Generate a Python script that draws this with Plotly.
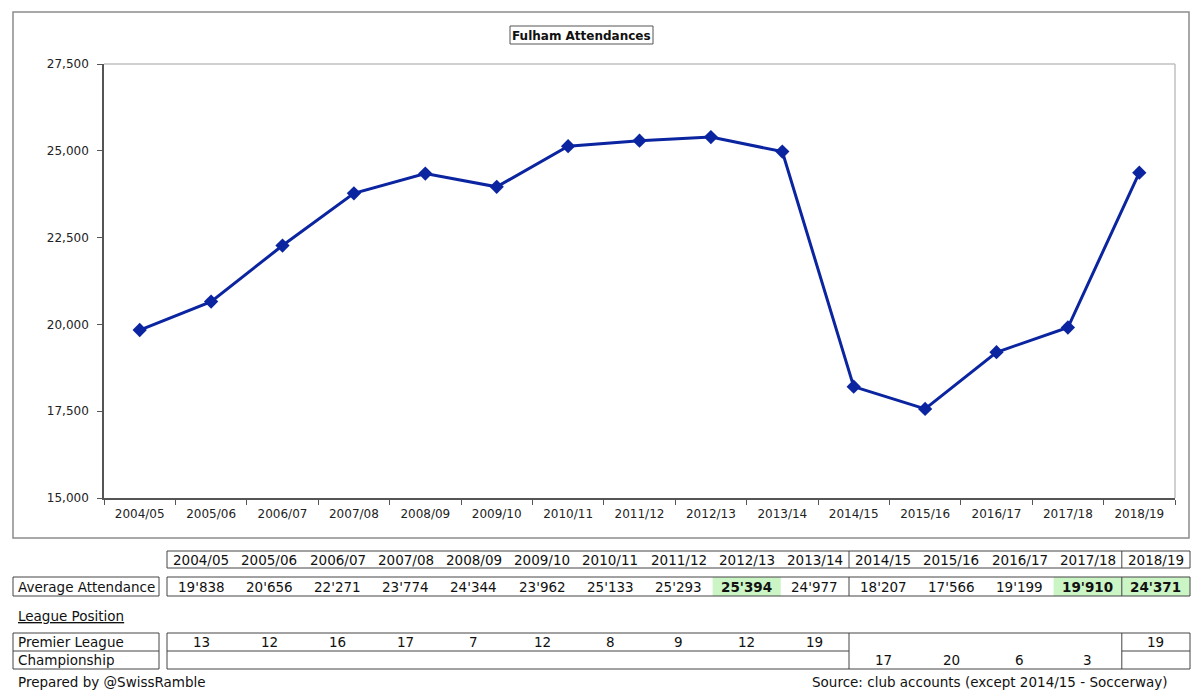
import plotly.graph_objects as go

seasons = ["2004/05", "2005/06", "2006/07", "2007/08", "2008/09", "2009/10", "2010/11",
           "2011/12", "2012/13", "2013/14", "2014/15", "2015/16", "2016/17", "2017/18", "2018/19"]
attendance = [19838, 20656, 22271, 23774, 24344, 23962, 25133, 25293, 25394, 24977,
              18207, 17566, 19199, 19910, 24371]
premier_league = [13, 12, 16, 17, 7, 12, 8, 9, 12, 19, None, None, None, None, 19]
championship = [None, None, None, None, None, None, None, None, None, None, 17, 20, 6, 3, None]
highlight = ["2012/13", "2017/18", "2018/19"]

W, H = 1200, 691
OFF = 8  # page body margin
FONT = "DejaVu Sans, Verdana, sans-serif"
LINE = "#0b24a0"

def px(x):
    return (x - OFF) / W

def py(y):
    return 1 - (y - OFF) / H

fig = go.Figure()
fig.add_trace(go.Scatter(
    x=seasons, y=attendance, mode="lines+markers",
    line=dict(color=LINE, width=3),
    marker=dict(symbol="diamond", size=11, color=LINE),
    hoverinfo="x+y", showlegend=False,
))

shapes = []
annotations = []

def rect(x0, y0, x1, y1, line="#444", fill=None, width=1):
    shapes.append(dict(type="rect", xref="paper", yref="paper",
                       x0=px(x0), x1=px(x1), y0=py(y0), y1=py(y1),
                       line=dict(color=line, width=width),
                       fillcolor=fill if fill else "rgba(0,0,0,0)", layer="below"))

def hline(x0, x1, y, color="#444", width=1):
    shapes.append(dict(type="line", xref="paper", yref="paper",
                       x0=px(x0), x1=px(x1), y0=py(y), y1=py(y),
                       line=dict(color=color, width=width)))

def vline(x, y0, y1, color="#444", width=1):
    shapes.append(dict(type="line", xref="paper", yref="paper",
                       x0=px(x), x1=px(x), y0=py(y0), y1=py(y1),
                       line=dict(color=color, width=width)))

def text(x, y, s, size=13.5, xanchor="center", bold=False):
    annotations.append(dict(xref="paper", yref="paper", x=px(x), y=py(y),
                            text=("<b>%s</b>" % s) if bold else s,
                            showarrow=False, xanchor=xanchor, yanchor="middle",
                            font=dict(family=FONT, size=size, color="#111")))

# chart outer frame
rect(13, 12, 1189, 538, line="#8c8c8c", width=1.5)
# plot area top/right light border
hline(104, 1175, 64, color="#c0c0c0", width=1.5)
vline(1175, 64, 498, color="#c0c0c0", width=1.5)
# title box
rect(510, 26, 653, 44, line="#555", width=1)
text(581.5, 35.5, "Fulham Attendances", size=12, bold=True)

# table geometry
tx0, tx1 = 167, 1190
n = len(seasons)
cw = (tx1 - tx0) / n
def cx(i):
    return tx0 + cw * (i + 0.5)
sep1 = tx0 + cw * 10
sep2 = tx0 + cw * 14

# header row
rect(tx0, 551, tx1, 568)
vline(sep1, 551, 568)
vline(sep2, 551, 568)
for i, s in enumerate(seasons):
    text(cx(i), 560, s)

# average attendance row
for i, s in enumerate(seasons):
    if s in highlight:
        shapes.append(dict(type="rect", xref="paper", yref="paper",
                           x0=px(tx0 + cw * i), x1=px(tx0 + cw * (i + 1)),
                           y0=py(577), y1=py(596), line=dict(width=0),
                           fillcolor="#ccf5c6", layer="below"))
rect(13, 577, 159, 596)
text(16, 587, "Average Attendance", xanchor="left")
rect(tx0, 577, tx1, 596)
vline(sep1, 577, 596)
vline(sep2, 577, 596)
for i, (s, v) in enumerate(zip(seasons, attendance)):
    label = "{:,}".format(v).replace(",", "'")
    text(cx(i), 587, label, bold=(s in highlight))

# league position
text(16, 616, "<u>League Position</u>", xanchor="left")
rect(13, 633, 159, 669)
hline(13, 159, 651)
text(16, 642, "Premier League", xanchor="left")
text(16, 660, "Championship", xanchor="left")
rect(tx0, 633, tx1, 669)
vline(sep1, 633, 669)
vline(sep2, 633, 669)
hline(tx0, sep1, 651)
hline(sep2, tx1, 651)
for i, v in enumerate(premier_league):
    if v is not None:
        text(cx(i), 642, str(v))
for i, v in enumerate(championship):
    if v is not None:
        text(cx(i), 660, str(v))

text(16, 682, "Prepared by @SwissRamble", xanchor="left")
text(1170, 682, "Source: club accounts (except 2014/15 - Soccerway)", xanchor="right")

fig.update_layout(
    width=W, height=H, autosize=False,
    margin=dict(l=0, r=0, t=0, b=0, pad=0, autoexpand=False),
    paper_bgcolor="white", plot_bgcolor="white",
    font=dict(family=FONT, size=12, color="#222"),
    shapes=shapes, annotations=annotations,
    xaxis=dict(domain=[px(104), px(1175)], type="category", tickson="boundaries",
               range=[-0.5, len(seasons) - 0.5],
               ticks="outside", ticklen=5, tickcolor="#555", showline=True,
               linecolor="#555", linewidth=1.5, showgrid=False, zeroline=False,
               tickfont=dict(family=FONT, size=12, color="#222"),
               ticklabelstandoff=4, fixedrange=True, automargin=False),
    yaxis=dict(domain=[py(498), py(64)], range=[15000, 27500], dtick=2500,
               tickformat=",", ticks="outside", ticklen=5, tickcolor="#555",
               showline=True, linecolor="#555", linewidth=1.5, showgrid=False,
               zeroline=False, tickfont=dict(family=FONT, size=12, color="#222"),
               ticklabelstandoff=6, fixedrange=True, automargin=False),
)

fig.write_html("out.html")
